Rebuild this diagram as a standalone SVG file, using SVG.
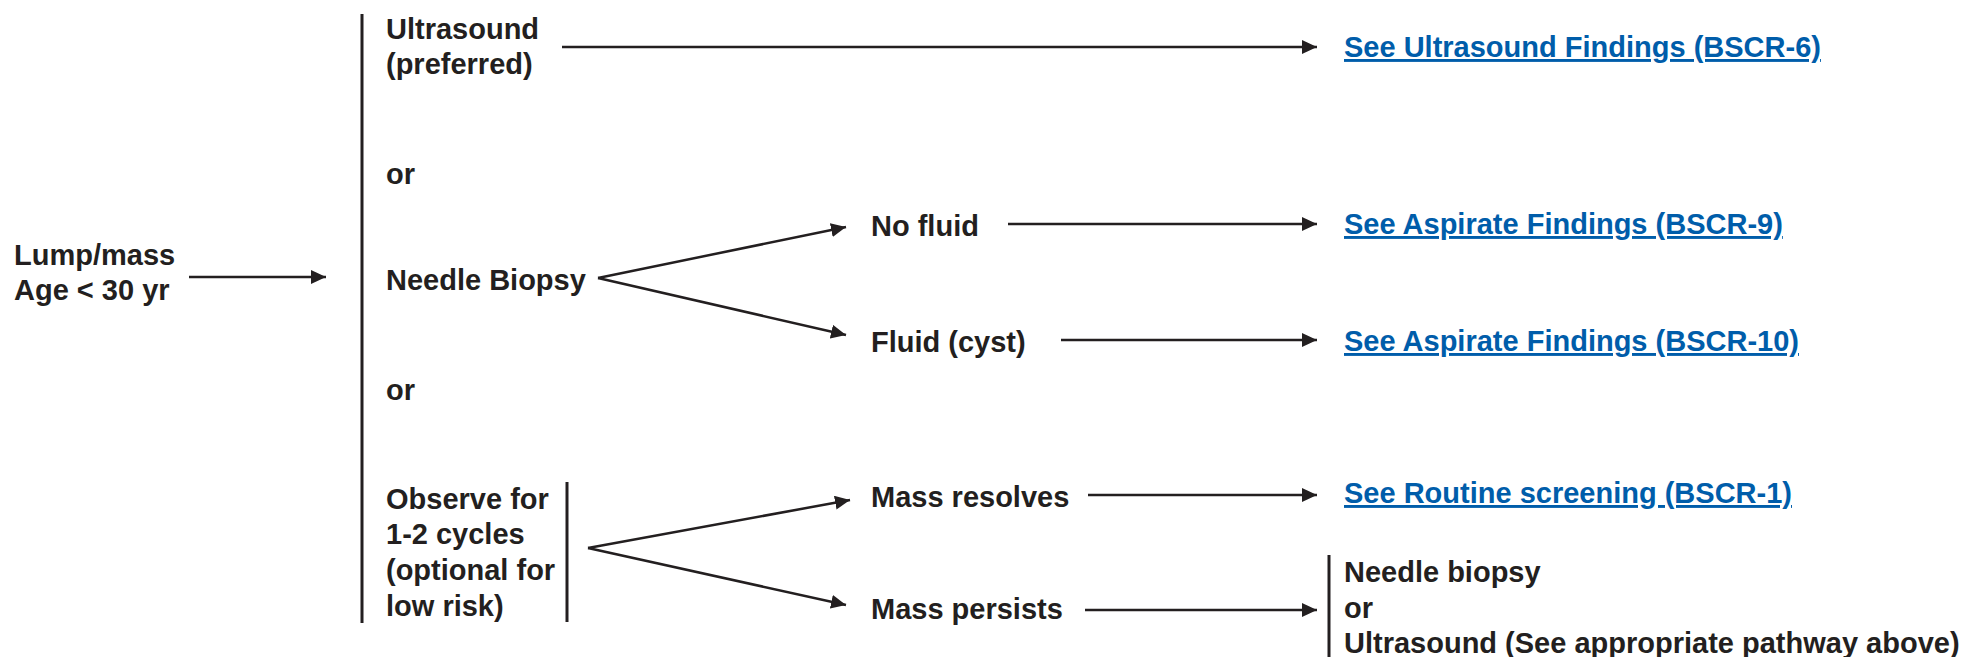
<svg xmlns="http://www.w3.org/2000/svg" width="1969" height="657" viewBox="0 0 1969 657">
<style>
  text { font-family: "Liberation Sans", Arial, Helvetica, sans-serif; font-weight: bold; font-size: 29px; fill: #231F20; }
  text.link { fill: #005DAA; text-decoration: underline; }
  .ln { stroke: #231F20; stroke-width: 2.5; fill: none; }
  .bar { stroke: #231F20; stroke-width: 3; fill: none; }
</style>
<defs>
  <marker id="ah" markerUnits="userSpaceOnUse" markerWidth="15" markerHeight="14" refX="15" refY="7" orient="auto">
    <path d="M0,0 L15,7 L0,14 z" fill="#231F20"/>
  </marker>
</defs>
<rect width="1969" height="657" fill="#ffffff"/>
<g id="connectors">
  <line class="bar" x1="362" y1="14" x2="362" y2="623"/>
  <line class="bar" x1="567" y1="482" x2="567" y2="622"/>
  <line class="bar" x1="1329" y1="555" x2="1329" y2="657"/>
  <line class="ln" x1="189" y1="277" x2="326" y2="277" marker-end="url(#ah)"/>
  <line class="ln" x1="562" y1="47" x2="1317" y2="47" marker-end="url(#ah)"/>
  <line class="ln" x1="598" y1="278" x2="846" y2="227" marker-end="url(#ah)"/>
  <line class="ln" x1="598" y1="278" x2="846" y2="335" marker-end="url(#ah)"/>
  <line class="ln" x1="1008" y1="224" x2="1317" y2="224" marker-end="url(#ah)"/>
  <line class="ln" x1="1061" y1="340" x2="1317" y2="340" marker-end="url(#ah)"/>
  <line class="ln" x1="588" y1="548" x2="850" y2="500" marker-end="url(#ah)"/>
  <line class="ln" x1="588" y1="548" x2="846" y2="605" marker-end="url(#ah)"/>
  <line class="ln" x1="1088" y1="495" x2="1317" y2="495" marker-end="url(#ah)"/>
  <line class="ln" x1="1085" y1="610" x2="1317" y2="610" marker-end="url(#ah)"/>
</g>
<g id="lump">
  <text x="14" y="265">Lump/mass</text>
  <text x="14" y="300">Age &lt; 30 yr</text>
</g>
<g id="ultrasound">
  <text x="386" y="39">Ultrasound</text>
  <text x="386" y="74">(preferred)</text>
</g>
<g id="or1"><text x="386" y="184">or</text></g>
<g id="needle-biopsy"><text x="386" y="290">Needle Biopsy</text></g>
<g id="or2"><text x="386" y="400">or</text></g>
<g id="observe">
  <text x="386" y="509">Observe for</text>
  <text x="386" y="544">1-2 cycles</text>
  <text x="386" y="580">(optional for</text>
  <text x="386" y="616">low risk)</text>
</g>
<g id="no-fluid"><text x="871" y="236">No fluid</text></g>
<g id="fluid"><text x="871" y="352">Fluid (cyst)</text></g>
<g id="mass-resolves"><text x="871" y="507">Mass resolves</text></g>
<g id="mass-persists"><text x="871" y="619">Mass persists</text></g>
<g id="bscr6"><text class="link" x="1344" y="57">See Ultrasound Findings (BSCR-6)</text></g>
<g id="bscr9"><text class="link" x="1344" y="234">See Aspirate Findings (BSCR-9)</text></g>
<g id="bscr10"><text class="link" x="1344" y="351">See Aspirate Findings (BSCR-10)</text></g>
<g id="bscr1"><text class="link" x="1344" y="503">See Routine screening (BSCR-1)</text></g>
<g id="next-step">
  <text x="1344" y="582">Needle biopsy</text>
  <text x="1344" y="618">or</text>
  <text x="1344" y="653">Ultrasound (See appropriate pathway above)</text>
</g>
</svg>
